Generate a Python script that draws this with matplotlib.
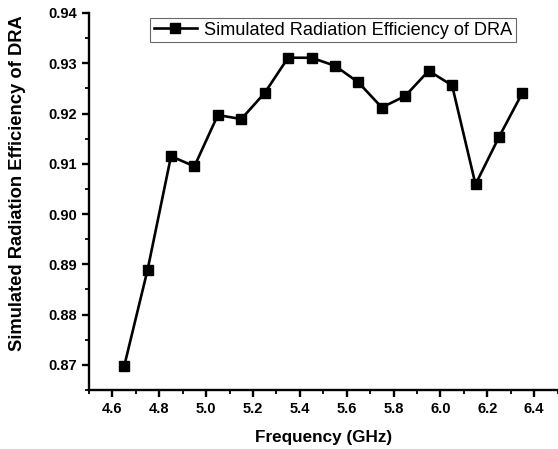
import matplotlib
matplotlib.use("Agg")
import matplotlib.pyplot as plt
from matplotlib.ticker import MultipleLocator, FormatStrFormatter

# data
freq = [4.65, 4.75, 4.85, 4.95, 5.05, 5.15, 5.25, 5.35, 5.45,
        5.55, 5.65, 5.75, 5.85, 5.95, 6.05, 6.15, 6.25, 6.35]
efficiency = [0.8697, 0.8889, 0.9115, 0.9095, 0.9197, 0.9189, 0.9241, 0.9311, 0.9311,
              0.9295, 0.9262, 0.9212, 0.9235, 0.9285, 0.9256, 0.9059, 0.9153, 0.9241]
series_label = "Simulated Radiation Efficiency of DRA"

plt.rcParams['font.family'] = ['Liberation Sans', 'DejaVu Sans']

fig = plt.figure(figsize=(5.58, 4.49), dpi=100)
ax = fig.add_axes([89 / 558, 1 - 390 / 449, (557.5 - 89) / 558, (390 - 13) / 449])

ax.plot(freq, efficiency, color='black', linewidth=1.9, marker='s',
        markersize=6.5, label=series_label)

ax.set_xlim(4.5, 6.5)
ax.set_ylim(0.865, 0.94)
ax.xaxis.set_major_locator(MultipleLocator(0.2))
ax.xaxis.set_minor_locator(MultipleLocator(0.1))
ax.yaxis.set_major_locator(MultipleLocator(0.01))
ax.yaxis.set_minor_locator(MultipleLocator(0.005))
ax.xaxis.set_major_formatter(FormatStrFormatter('%.1f'))
ax.yaxis.set_major_formatter(FormatStrFormatter('%.2f'))

for side in ['top', 'right']:
    ax.spines[side].set_visible(False)
for side in ['left', 'bottom']:
    ax.spines[side].set_linewidth(1.7)

ax.tick_params(which='major', direction='out', length=5, width=1.7, labelsize=10.5)
ax.tick_params(which='minor', direction='out', length=3, width=1.3)
for lbl in ax.get_xticklabels() + ax.get_yticklabels():
    lbl.set_fontweight('bold')

ax.set_xlabel("Frequency (GHz)", fontsize=12.3, fontweight='bold', labelpad=10.5)
ax.set_ylabel(series_label, fontsize=13.2, fontweight='bold')
# label sits a bit above the axes centre in the reference
ax.yaxis.set_label_coords(-0.1345, 0.548)

leg = ax.legend(loc='upper left', bbox_to_anchor=(61 / 468.5, 1 - 5 / 377),
                fontsize=13.1, frameon=True, fancybox=False, borderpad=0.2,
                handlelength=2.4, handletextpad=0.35, borderaxespad=0)
leg.get_frame().set_edgecolor('#444444')
leg.get_frame().set_linewidth(0.8)

fig.savefig("out.png", dpi=100)
